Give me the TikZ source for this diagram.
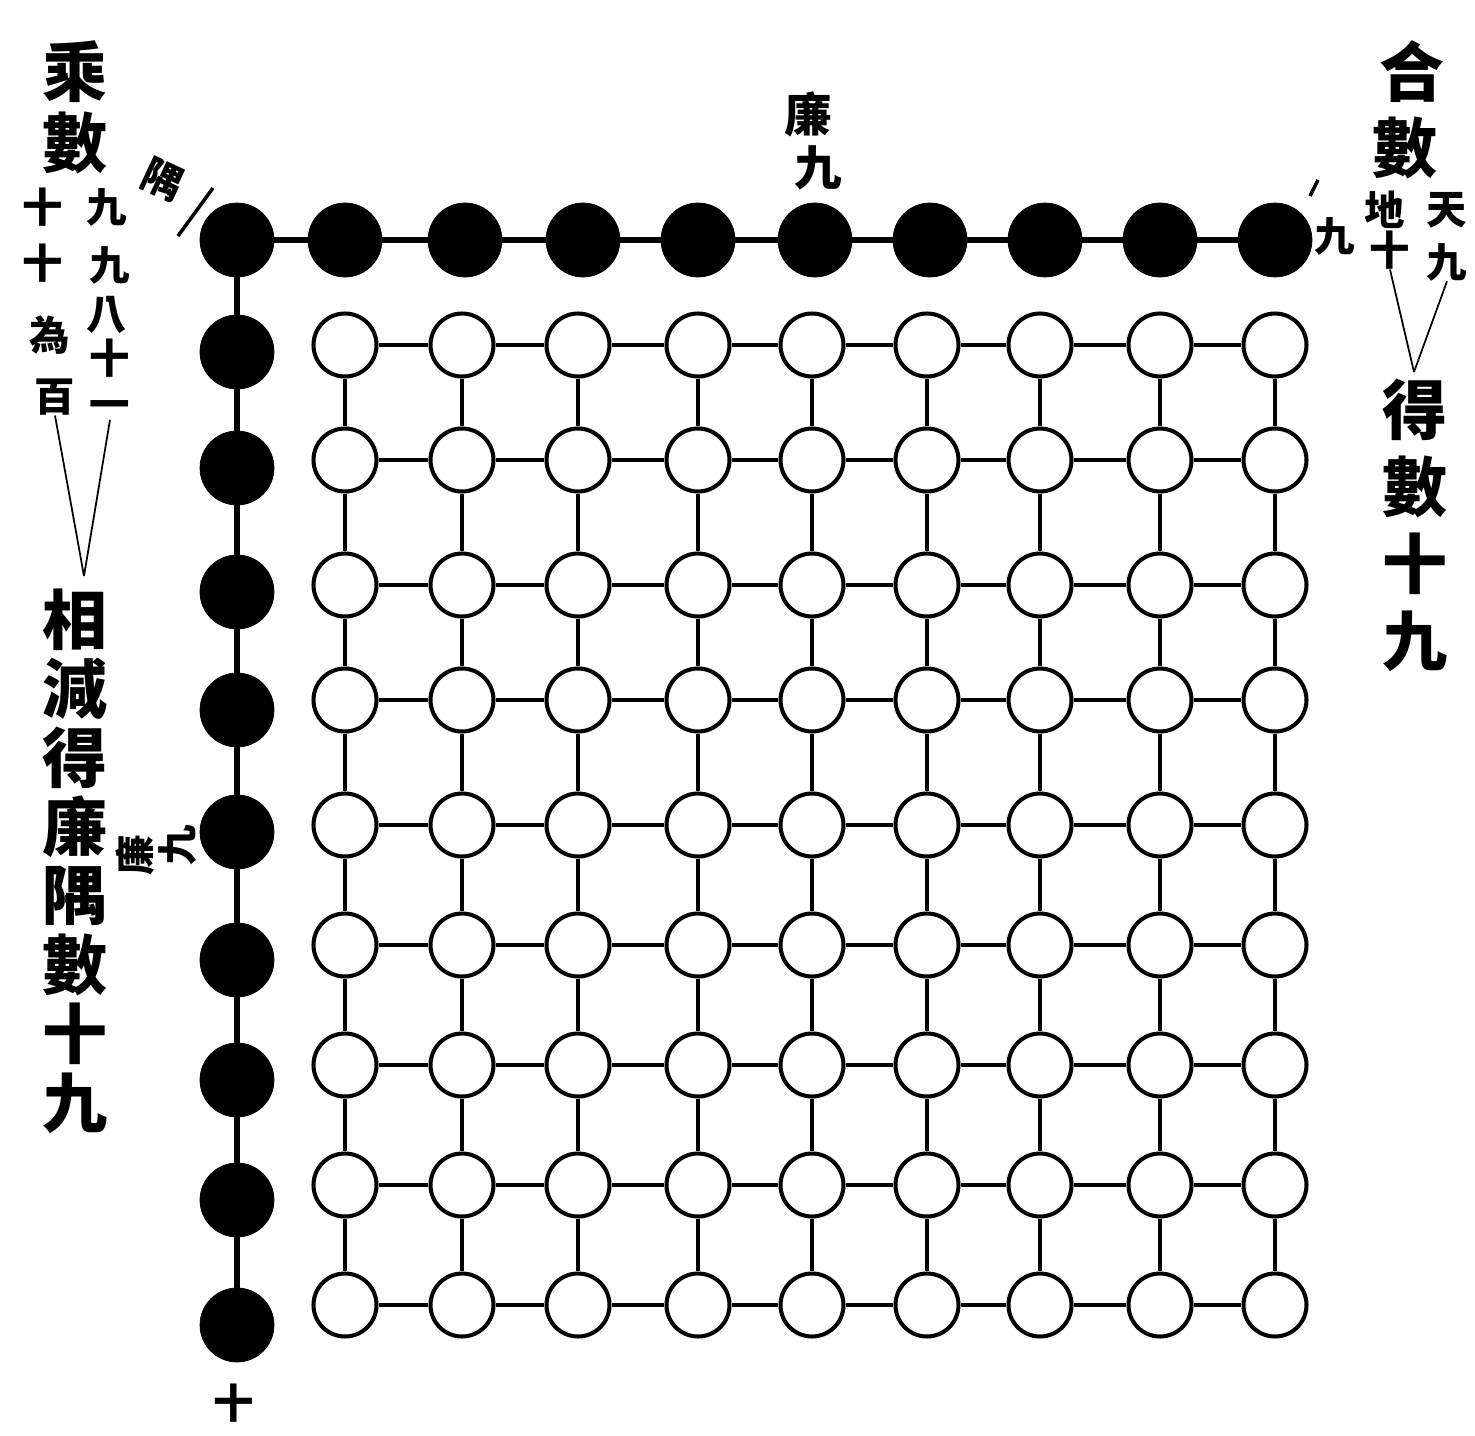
\documentclass[tikz,border=0pt]{standalone}
\usepackage{fontspec}
\newfontfamily\cjk{Noto Sans CJK TC}
\begin{document}
\begin{tikzpicture}[x=0.02cm,y=-0.02cm,
  bead/.style={circle,fill=black,draw=black,inner sep=0pt,minimum size=1.48cm},
  ring/.style={circle,fill=white,draw=black,line width=2.3pt,inner sep=0pt,minimum size=1.26cm},
  chain/.style={line width=3.6pt},
  link/.style={line width=1.9pt},
  thin/.style={line width=1pt},
  big/.style={font=\cjk\bfseries\fontsize{37}{37}\selectfont,inner sep=0pt},
  small/.style={font=\cjk\bfseries\fontsize{23}{23}\selectfont,inner sep=0pt},
  mid/.style={font=\cjk\bfseries\fontsize{27}{27}\selectfont,inner sep=0pt}]
\useasboundingbox[fill=white] (0,0) rectangle (1475,1436);

% black beads: top row and left column
\foreach \x [count=\i from 0] in {237,345,465,583,698,815,930,1045,1160,1275}
  \node[bead] (t\i) at (\x,240) {};
\foreach \y [count=\i] in {352,468,592,710,832,960,1080,1200,1325}
  \node[bead] (v\i) at (237,\y) {};
\foreach \i [remember=\i as \j (initially 0)] in {1,...,9}
  \draw[chain] (t\j) -- (t\i);
\draw[chain] (t0) -- (v1);
\foreach \i [remember=\i as \j (initially 1)] in {2,...,9}
  \draw[chain] (v\j) -- (v\i);

% white grid 9x9
\foreach \x [count=\i] in {345,462,578,698,812,927,1040,1160,1275}
  \foreach \y [count=\j] in {345,460,585,700,825,945,1065,1185,1305}
    \node[ring] (g\i-\j) at (\x,\y) {};
\foreach \i [remember=\i as \k (initially 1)] in {2,...,9}
  \foreach \j in {1,...,9} {
    \draw[link] (g\k-\j) -- (g\i-\j);
    \draw[link] (g\j-\k) -- (g\j-\i);
  }

% top-left text
\node[big] (a1) at (75,72) {乘};
\node[big] (a2) at (75,143) {數};
\node[small] (b1) at (43,207) {十};
\node[small] (b2) at (43,263) {十};
\node[small] (b3) at (50,335) {為};
\node[small] (b4) at (55,397) {百};
\node[small] (c1) at (107,207) {九};
\node[small] (c2) at (110,265) {九};
\node[small] (c3) at (107,315) {八};
\node[small] (c4) at (110,358) {十};
\node[small] (c5) at (110,410) {一};
\coordinate (lj) at (84,576);
\draw[thin] (b4.south) -- (lj);
\draw[thin] (c5.south) -- (lj);

% left column text
\foreach \c [count=\i] in {相,減,得,廉,隅,數,十,九}
  \node[big] (L\i) at (75,{620+69*(\i-1)}) {\c};

% small marks by the corner bead
\node[small,rotate=-25] (u1) at (163,180) {隅};
\coordinate (s1) at (178,236);
\coordinate (s2) at (213,188);
\draw[line width=2pt] (s1) -- (s2);

% left side label
\node[small,rotate=90] (m1) at (135,855) {廉};
\node[small,rotate=90] (m2) at (177,845) {九};

% top label
\node[mid] (k1) at (808,114) {廉};
\node[mid] (k2) at (818,168) {九};

% right top text
\node[big] (r1) at (1412,72) {合};
\node[big] (r2) at (1405,148) {數};
\node[small] (r3) at (1447,210) {天};
\node[small] (r4) at (1447,262) {九};
\node[small] (r5) at (1385,210) {地};
\node[small] (r6) at (1390,250) {十};
\node[small] (r7) at (1335,236) {九};
\coordinate (w1) at (1310,196);
\coordinate (w2) at (1318,180);
\draw[line width=2pt] (w1) -- (w2);
\coordinate (rj) at (1414,372);
\draw[thin] (r6.south) -- (rj);
\draw[thin] (r4.south) -- (rj);

% right column text
\foreach \c [count=\i] in {得,數,十,九}
  \node[big] (R\i) at (1415,{410+77*(\i-1)}) {\c};

% bottom label
\node[small] (z1) at (234,1403) {十};
\end{tikzpicture}
\end{document}
